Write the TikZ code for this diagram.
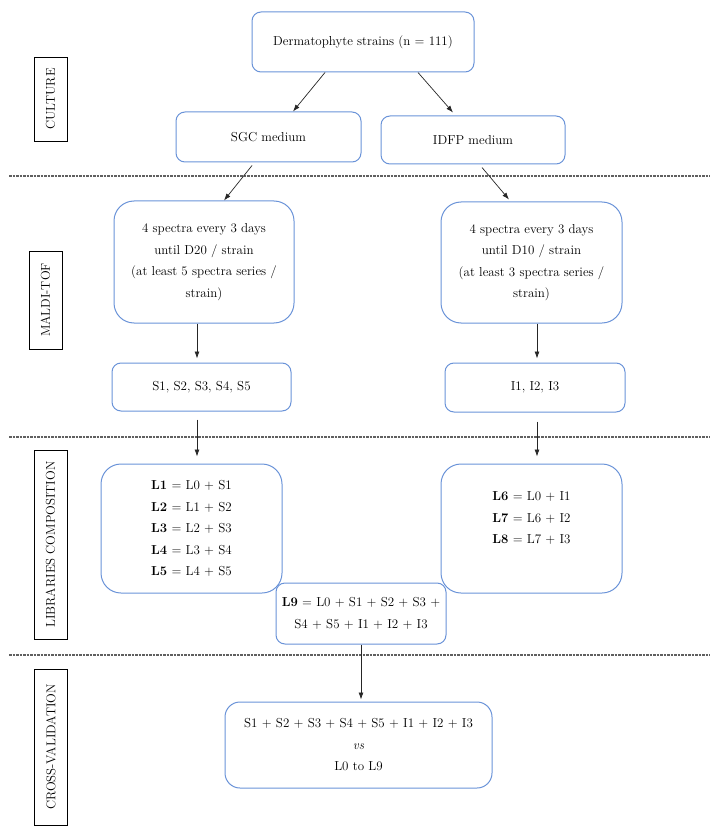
\documentclass[tikz,border=0pt]{standalone}
\usepackage{fontspec}
\usepackage{tikz}
\usetikzlibrary{arrows.meta, positioning, calc}
\definecolor{ColorBox}{HTML}{6A93D8}
\definecolor{ColorDash}{HTML}{606060}

\begin{document}
\begin{tikzpicture}[x=1pt, y=-1pt,
box/.style={
	rectangle,
	draw = ColorBox,
	line width = 1pt,
	rounded corners = 9pt,
	align=center,
	inner sep=0mm,
	font=\fontsize{13}{21.5}\selectfont,
	text = black},
tallbox/.style={
	box,
	rounded corners = 20pt},
stage/.style={
	rectangle,
	draw = black,
	line width = 0.8pt,
	rotate = 90,
	inner sep = 0mm,
	minimum height = 33pt,
	font=\fontsize{12.8}{14}\selectfont},
post/.style={
	->,
	draw,
	>={Latex[length=7pt, width=5pt]},
	line width = 0.7pt,
	color = black!85},
sep/.style={
	draw = ColorDash,
	dash pattern = on 2.5pt off 1pt,
	line width = 1.1pt}]

\useasboundingbox (0,0) rectangle (720,834);

%Stages
\node[stage, minimum width=84pt]  (culture) at (50.5,99)   {CULTURE};
\node[stage, minimum width=98pt]  (maldi)   at (45.5,300)  {MALDI-TOF};
\node[stage, minimum width=189pt] (libs)    at (50.5,544.5) {LIBRARIES COMPOSITION};
\node[stage, minimum width=156pt] (cross)   at (51,747)    {CROSS-VALIDATION};

\foreach \y in {176, 437, 655} {
	\draw[sep] (9,\y) -- (710,\y);
}

%Culture
\node[box, minimum width=222pt, minimum height=60pt] (strains) at (363,42) {Dermatophyte strains (n = 111)};
\node[box, minimum width=185pt, minimum height=50pt] (sgc) at (268.5,137) {SGC medium};
\node[box, minimum width=184pt, minimum height=48pt] (idfp) at (473,140) {IDFP medium};

\path[post] ([xshift=-38pt]strains.south) to ([xshift=24.5pt]sgc.north);
\path[post] ([xshift=55pt]strains.south) to ([xshift=-20pt, yshift=3pt]idfp.north);

%Maldi
\node[tallbox, minimum width=180pt, minimum height=122pt] (specS) at (204,262) {4 spectra every 3 days\\ until D20 / strain\\ (at least 5 spectra series /\\ strain)};
\node[tallbox, minimum width=181pt, minimum height=121pt] (specI) at (531.5,262.5) {4 spectra every 3 days\\ until D10 / strain\\ (at least 3 spectra series /\\ strain)};

\path[post] ([xshift=-16.5pt, yshift=-3pt]sgc.south) to ([xshift=20pt]specS.north);
\path[post] ([xshift=9pt, yshift=-3pt]idfp.south) to ([xshift=-22.5pt, yshift=2pt]specI.north);

\node[box, minimum width=179pt, minimum height=48pt] (S) at (201.5,387) {S1, S2, S3, S4, S5};
\node[box, minimum width=180pt, minimum height=49pt] (I) at (535,387.5) {I1, I2, I3};

\path[post] ([xshift=-7pt]specS.south) to ([xshift=-4.5pt, yshift=4pt]S.north);
\path[post] ([xshift=5.5pt]specI.south) to ([xshift=2pt, yshift=4pt]I.north);

%Libraries
\node[tallbox, minimum width=181pt, minimum height=129pt] (libS) at (191.5,528.5) {\textbf{L1} = L0 + S1\\ \textbf{L2} = L1 + S2\\ \textbf{L3} = L2 + S3\\ \textbf{L4} = L3 + S4\\ \textbf{L5} = L4 + S5};
\node[tallbox, minimum width=181pt, minimum height=129pt] (libI) at (531.5,528.5) {\textbf{L6} = L0 + I1\\ \textbf{L7} = L6 + I2\\ \textbf{L8} = L7 + I3\\ \mbox{}};
\node[box, fill=white, minimum width=170pt, minimum height=61pt] (lib9) at (361,613.5) {\textbf{L9} = L0 + S1 + S2 + S3 +\\ S4 + S5 + I1 + I2 + I3};

\path[post] ([xshift=-4.5pt, yshift=-8pt]S.south) to ([xshift=5.5pt, yshift=7pt]libS.north);
\path[post] ([xshift=2pt, yshift=-9pt]I.south) to ([xshift=5.5pt, yshift=7pt]libI.north);

%Cross validation
\node[box, rounded corners=15pt, minimum width=267pt, minimum height=86pt] (cv) at (358.5,745) {S1 + S2 + S3 + S4 + S5 + I1 + I2 + I3\\ \textit{vs}\\ L0 to L9};

\path[post] (lib9.south) to ([xshift=2.5pt, yshift=2pt]cv.north);
	\end{tikzpicture}
\end{document}
